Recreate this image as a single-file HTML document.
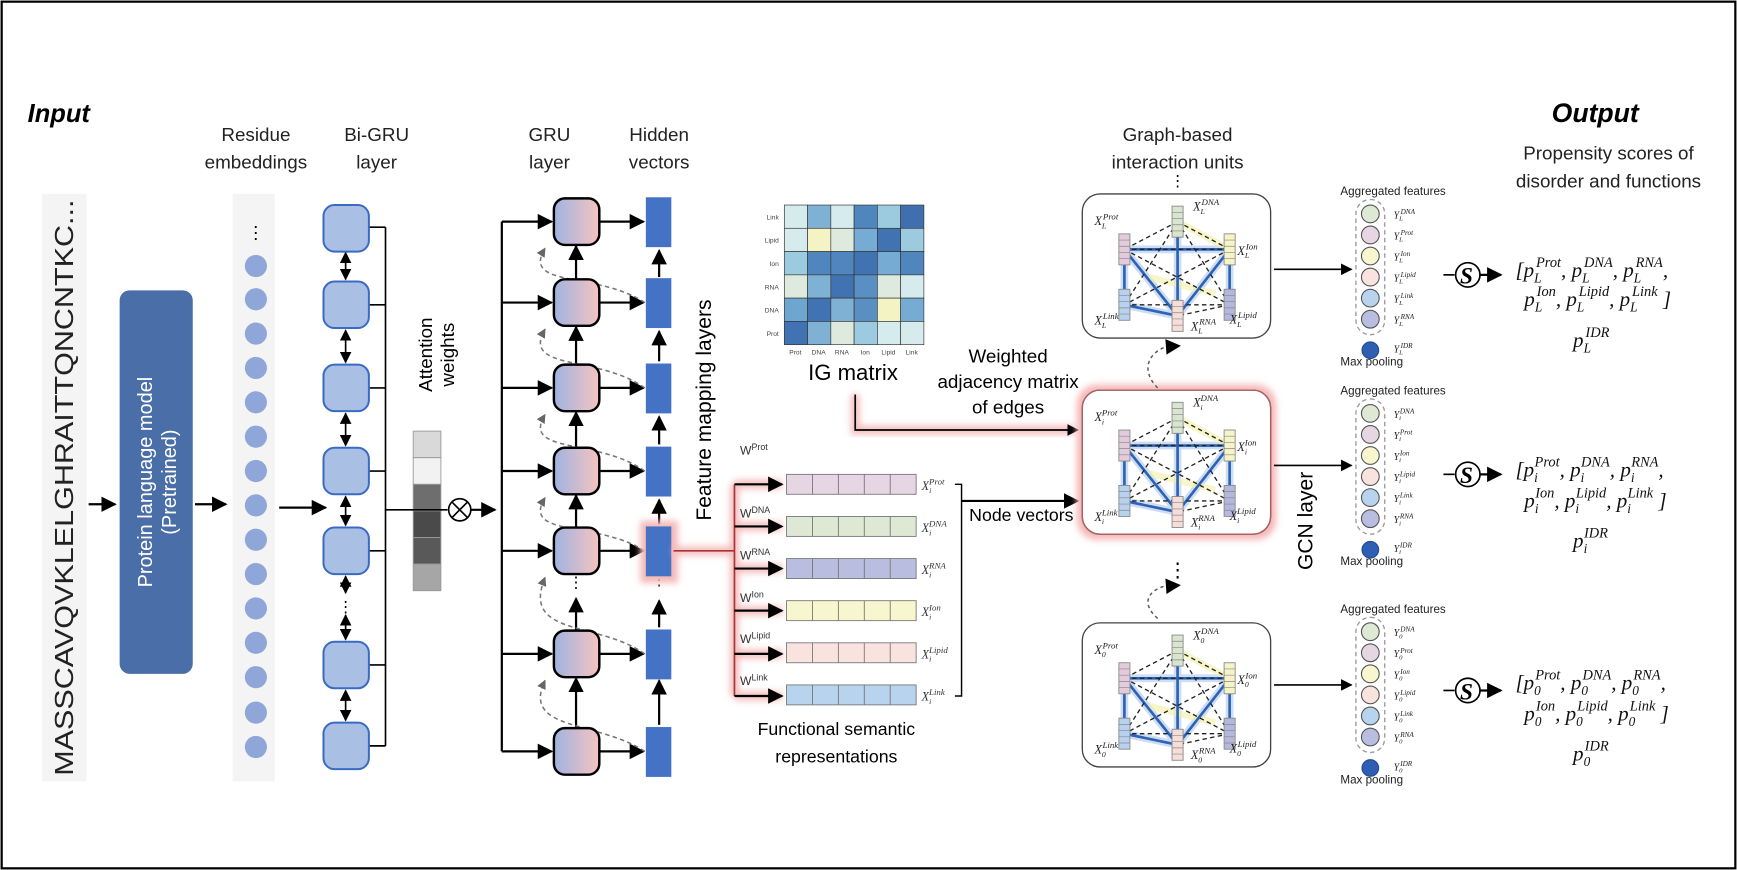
<!DOCTYPE html>
<html><head><meta charset="utf-8"><style>
html,body{margin:0;padding:0;background:#fff}
svg{display:block}
text{font-family:"Liberation Sans",Arial,sans-serif}
.ser,.ser text{font-family:"Liberation Serif","DejaVu Serif",serif;font-style:italic}
</style></head><body>
<svg width="1737" height="870" viewBox="0 0 1568 785" preserveAspectRatio="none" xmlns="http://www.w3.org/2000/svg">
<defs>
<marker id="ah" viewBox="0 0 10 10" refX="9" refY="5" markerWidth="7" markerHeight="7" orient="auto-start-reverse"><path d="M0,0L10,5L0,10z" fill="#000"/></marker>
<marker id="ahg" viewBox="0 0 10 10" refX="9" refY="5" markerWidth="6" markerHeight="6" orient="auto"><path d="M0,0L10,5L0,10z" fill="#666"/></marker>
<linearGradient id="gru" x1="0" x2="1"><stop offset="0" stop-color="#9fb3e0"/><stop offset="1" stop-color="#f6c3c0"/></linearGradient>
<filter id="glow" x="-20%" y="-20%" width="140%" height="140%"><feGaussianBlur stdDeviation="3"/></filter>
<g id="node"><rect x="-5" y="-14" width="10" height="28" stroke="#888" stroke-width="0.8"/><path d="M-5,-8.4H5M-5,-2.8H5M-5,2.8H5M-5,8.4H5" stroke="#888" stroke-width="0.6"/></g>
<g id="unit">
<rect x="0" y="0" width="170" height="130" rx="16" fill="#fff" stroke="#444" stroke-width="1.2"/>
<g stroke="#8db4e6" stroke-width="7" opacity="0.45" fill="none"><path d="M38,50L133,50M38,50L38,100M38,50L86,110M86,25L86,110M133,50L86,110M38,100L86,110M133,50L133,100"/></g>
<g stroke="#f1f0a8" stroke-width="6" opacity="0.6" fill="none"><path d="M86,25L133,50M60,75L120,90"/></g>
<g stroke="#2d62b5" stroke-width="2.4" fill="none"><path d="M38,50L133,50M38,50L38,100M38,50L86,110M86,25L86,110M133,50L86,110M38,100L86,110M133,50L133,100"/></g>
<g stroke="#222" stroke-width="1.2" stroke-dasharray="4,3" fill="none"><path d="M86,25L38,50M86,25L133,50M38,50L133,100M133,50L38,100M38,100L133,100M86,25L38,100M86,25L133,100M133,100L86,110M38,50L133,50"/></g>
<use href="#node" x="86" y="25" fill="#d9e5cf"/>
<use href="#node" x="38" y="50" fill="#e4cbdc"/>
<use href="#node" x="133" y="50" fill="#f6f4c6"/>
<use href="#node" x="38" y="100" fill="#b7d1ee"/>
<use href="#node" x="133" y="100" fill="#b3b8dc"/>
<use href="#node" x="86" y="110" fill="#f6ddd8"/>
</g>
<g id="agg">
<rect x="0" y="0" width="26" height="122" rx="13" fill="none" stroke="#999" stroke-width="1.2" stroke-dasharray="4,3"/>
<g stroke="#555" stroke-width="1"><circle cx="13" cy="13" r="8" fill="#dde8d5"/><circle cx="13" cy="32" r="8" fill="#e6d6e3"/><circle cx="13" cy="51" r="8" fill="#f8f6cf"/><circle cx="13" cy="70" r="8" fill="#f8e3df"/><circle cx="13" cy="89" r="8" fill="#b7d3ee"/><circle cx="13" cy="108" r="8" fill="#b9bee0"/></g>
<circle cx="13" cy="136" r="7.5" fill="#2f5fb3" stroke="#234a8c"/>
</g>
<g id="sarrow"><path d="M0,0H10" stroke="#000" stroke-width="1.5"/><circle cx="22" cy="0" r="11" fill="#fff" stroke="#000" stroke-width="1.5"/><path d="M33,0H52" stroke="#000" stroke-width="2" marker-end="url(#ah)"/></g>
</defs>
<rect x="1.5" y="1.5" width="1565" height="782" fill="#fff" stroke="#000" stroke-width="2"/>

<text x="25" y="110" font-size="23" font-weight="bold" font-style="italic">Input</text>
<g font-size="17" text-anchor="middle" fill="#222">
<text x="231" y="127">Residue</text><text x="231" y="152">embeddings</text>
<text x="340" y="127">Bi-GRU</text><text x="340" y="152">layer</text>
<text x="496" y="127">GRU</text><text x="496" y="152">layer</text>
<text x="595" y="127">Hidden</text><text x="595" y="152">vectors</text>
<text x="1063" y="127">Graph-based</text><text x="1063" y="152">interaction units</text>
<text x="1452" y="144">Propensity scores of</text><text x="1452" y="169">disorder and functions</text>
</g>
<text x="1440" y="110" font-size="24" font-weight="bold" font-style="italic" text-anchor="middle">Output</text>

<rect x="38" y="175" width="40" height="530" fill="#f4f4f4"/>
<text transform="translate(66,700) rotate(-90)" font-size="23" fill="#222" textLength="520" lengthAdjust="spacingAndGlyphs">MASSCAVQVKLELGHRAITTQNCNTKC...</text>
<path d="M80,455H104" stroke="#000" stroke-width="2" marker-end="url(#ah)"/>
<rect x="108" y="262" width="66" height="346" rx="9" fill="#4a6ea8"/>
<text transform="translate(137,435) rotate(-90)" font-size="18" fill="#fff" text-anchor="middle">Protein language model</text>
<text transform="translate(159,435) rotate(-90)" font-size="18" fill="#fff" text-anchor="middle">(Pretrained)</text>
<path d="M176,455H204" stroke="#000" stroke-width="2" marker-end="url(#ah)"/>

<rect x="210" y="175" width="38" height="530" fill="#f4f4f4"/>
<text x="231" y="215" font-size="16" text-anchor="middle">⋮</text>
<g fill="#8ea7d8">
<circle cx="231" cy="240" r="10"/><circle cx="231" cy="270" r="10"/><circle cx="231" cy="301" r="10"/><circle cx="231" cy="332" r="10"/><circle cx="231" cy="363" r="10"/><circle cx="231" cy="394" r="10"/><circle cx="231" cy="425" r="10"/><circle cx="231" cy="456" r="10"/><circle cx="231" cy="487" r="10"/><circle cx="231" cy="518" r="10"/><circle cx="231" cy="549" r="10"/><circle cx="231" cy="580" r="10"/><circle cx="231" cy="611" r="10"/><circle cx="231" cy="643" r="10"/><circle cx="231" cy="674" r="10"/></g>
<path d="M252,458H294" stroke="#000" stroke-width="2" marker-end="url(#ah)"/>

<path d="M348,205V673" stroke="#000" stroke-width="1.5"/>
<g stroke="#000" stroke-width="1.5"><path d="M333,205H348M333,275H348M333,350H348M333,425H348M333,497H348M333,600H348M333,673H348"/></g>
<g stroke="#000" stroke-width="1.5" marker-start="url(#ah)" marker-end="url(#ah)">
<path d="M312,228V252"/><path d="M312,298V327"/><path d="M312,373V402"/><path d="M312,448V474"/><path d="M312,520V535"/><path d="M312,555V577"/><path d="M312,623V650"/></g>
<text x="312" y="552" font-size="14" text-anchor="middle">⋮</text>
<g fill="#a9bfe3" stroke="#3a6bc4" stroke-width="1.8">
<rect x="292" y="185" width="41" height="42" rx="10"/><rect x="292" y="254" width="41" height="42" rx="10"/><rect x="292" y="329" width="41" height="42" rx="10"/><rect x="292" y="404" width="41" height="42" rx="10"/><rect x="292" y="476" width="41" height="42" rx="10"/><rect x="292" y="579" width="41" height="42" rx="10"/><rect x="292" y="652" width="41" height="42" rx="10"/></g>

<text transform="translate(390,320) rotate(-90)" font-size="17" text-anchor="middle">Attention</text>
<text transform="translate(410,320) rotate(-90)" font-size="17" text-anchor="middle">weights</text>
<g stroke="#999" stroke-width="0.8">
<rect x="373" y="389" width="25" height="24" fill="#d9d9d9"/><rect x="373" y="413" width="25" height="24" fill="#f2f2f2"/><rect x="373" y="437" width="25" height="24" fill="#6e6e6e"/><rect x="373" y="461" width="25" height="24" fill="#4a4a4a"/><rect x="373" y="485" width="25" height="24" fill="#595959"/><rect x="373" y="509" width="25" height="24" fill="#a6a6a6"/></g>
<path d="M348,460H404" stroke="#000" stroke-width="1.5"/>
<circle cx="415" cy="460" r="10" fill="#fff" stroke="#000" stroke-width="1.5"/>
<path d="M408,453L422,467M422,453L408,467" stroke="#000" stroke-width="1.5"/>
<path d="M425,460H447" stroke="#000" stroke-width="2" marker-end="url(#ah)"/>

<path d="M453,200V678" stroke="#000" stroke-width="2"/>
<g stroke="#000" stroke-width="2" marker-end="url(#ah)">
<path d="M453,200H498"/><path d="M453,273H498"/><path d="M453,350H498"/><path d="M453,425H498"/><path d="M453,497H498"/><path d="M453,590H498"/><path d="M453,678H498"/>
<path d="M541,200H581"/><path d="M541,273H581"/><path d="M541,350H581"/><path d="M541,425H581"/><path d="M541,497H581"/><path d="M541,590H581"/><path d="M541,678H581"/>
<path d="M520,252V222"/><path d="M520,329V295"/><path d="M520,404V372"/><path d="M520,476V447"/><path d="M520,569V540"/><path d="M520,657V612"/>
<path d="M595,250V226"/><path d="M595,326V299"/><path d="M595,401V376"/><path d="M595,473V451"/><path d="M595,566V542"/><path d="M595,654V614"/>
</g>
<text x="520" y="530" font-size="14" text-anchor="middle">⋮</text>
<text x="595" y="528" font-size="14" text-anchor="middle">⋮</text>
<g fill="none" stroke="#777" stroke-width="1.4" stroke-dasharray="4,3" marker-end="url(#ahg)">
<path d="M582,273C540,245 470,260 492,224"/><path d="M582,350C540,320 470,335 492,297"/><path d="M582,425C540,395 470,410 492,374"/><path d="M582,497C540,470 470,485 492,449"/><path d="M582,590C540,560 470,575 492,521"/><path d="M582,678C540,650 470,660 492,614"/></g>
<g fill="url(#gru)" stroke="#000" stroke-width="2.2">
<rect x="500" y="179" width="41" height="42" rx="10"/><rect x="500" y="252" width="41" height="42" rx="10"/><rect x="500" y="329" width="41" height="42" rx="10"/><rect x="500" y="404" width="41" height="42" rx="10"/><rect x="500" y="476" width="41" height="42" rx="10"/><rect x="500" y="569" width="41" height="42" rx="10"/><rect x="500" y="657" width="41" height="42" rx="10"/></g>
<rect x="578" y="470" width="34" height="56" fill="#f4b8b8" filter="url(#glow)"/>
<g fill="#4472c4">
<rect x="583" y="178" width="23" height="45"/><rect x="583" y="251" width="23" height="45"/><rect x="583" y="328" width="23" height="45"/><rect x="583" y="403" width="23" height="45"/><rect x="583" y="475" width="23" height="45"/><rect x="583" y="568" width="23" height="45"/><rect x="583" y="656" width="23" height="45"/></g>

<text transform="translate(642,370) rotate(-90)" font-size="19" text-anchor="middle">Feature mapping layers</text>

<g stroke="#f4bcbc" stroke-width="8" fill="none" filter="url(#glow)"><path d="M608,497H663M663,437V628M663,437H706M663,475H706M663,513H706M663,551H706M663,590H706M663,628H706"/></g>
<path d="M608,497H663M663,437V628" stroke="#a33" stroke-width="1.5" fill="none"/>
<g stroke="#000" stroke-width="2" marker-end="url(#ah)"><path d="M663,437H706"/><path d="M663,475H706"/><path d="M663,513H706"/><path d="M663,551H706"/><path d="M663,590H706"/><path d="M663,628H706"/></g>
<g font-size="11" fill="#333">
<text x="668" y="410">W<tspan font-size="8" dy="-4">Prot</tspan></text>
<text x="668" y="467">W<tspan font-size="8" dy="-4">DNA</tspan></text>
<text x="668" y="505">W<tspan font-size="8" dy="-4">RNA</tspan></text>
<text x="668" y="543">W<tspan font-size="8" dy="-4">Ion</tspan></text>
<text x="668" y="580">W<tspan font-size="8" dy="-4">Lipid</tspan></text>
<text x="668" y="618">W<tspan font-size="8" dy="-4">Link</tspan></text></g>
<g stroke="#777" stroke-width="0.8">
<rect x="710" y="428" width="117" height="18" fill="#e6d6e3"/>
<rect x="710" y="466" width="117" height="18" fill="#dde8d5"/>
<rect x="710" y="504" width="117" height="18" fill="#b9bee0"/>
<rect x="710" y="542" width="117" height="18" fill="#f8f6cf"/>
<rect x="710" y="580" width="117" height="18" fill="#f8e3df"/>
<rect x="710" y="618" width="117" height="18" fill="#b7d3ee"/>
<path d="M733.4,428V446M756.8,428V446M780.2,428V446M803.6,428V446M733.4,466V484M756.8,466V484M780.2,466V484M803.6,466V484M733.4,504V522M756.8,504V522M780.2,504V522M803.6,504V522M733.4,542V560M756.8,542V560M780.2,542V560M803.6,542V560M733.4,580V598M756.8,580V598M780.2,580V598M803.6,580V598M733.4,618V636M756.8,618V636M780.2,618V636M803.6,618V636"/></g>
<g font-size="11" class="ser" fill="#333">
<text x="832" y="442">X<tspan font-size="7" dy="3">i</tspan><tspan font-size="8" dy="-8" dx="-2">Prot</tspan></text>
<text x="832" y="480">X<tspan font-size="7" dy="3">i</tspan><tspan font-size="8" dy="-8" dx="-2">DNA</tspan></text>
<text x="832" y="518">X<tspan font-size="7" dy="3">i</tspan><tspan font-size="8" dy="-8" dx="-2">RNA</tspan></text>
<text x="832" y="556">X<tspan font-size="7" dy="3">i</tspan><tspan font-size="8" dy="-8" dx="-2">Ion</tspan></text>
<text x="832" y="594">X<tspan font-size="7" dy="3">i</tspan><tspan font-size="8" dy="-8" dx="-2">Lipid</tspan></text>
<text x="832" y="632">X<tspan font-size="7" dy="3">i</tspan><tspan font-size="8" dy="-8" dx="-2">Link</tspan></text></g>
<path d="M862,437H868V628H862" stroke="#000" stroke-width="1.3" fill="none"/>
<path d="M868,452H970" stroke="#f4bcbc" stroke-width="8" filter="url(#glow)"/>
<path d="M868,452H973" stroke="#000" stroke-width="2" marker-end="url(#ah)"/>
<text x="922" y="470" font-size="16" text-anchor="middle">Node vectors</text>
<text x="755" y="663" font-size="16" text-anchor="middle">Functional semantic</text>
<text x="755" y="688" font-size="16" text-anchor="middle">representations</text>

<g stroke="#333" stroke-width="0.6">
<rect x="708" y="185" width="21" height="21" fill="#d6ebee"/><rect x="729" y="185" width="21" height="21" fill="#7fb1d4"/><rect x="750" y="185" width="21" height="21" fill="#d6ebee"/><rect x="771" y="185" width="21" height="21" fill="#4f86bd"/><rect x="792" y="185" width="21" height="21" fill="#9ccbe0"/><rect x="813" y="185" width="21" height="21" fill="#3f6faf"/>
<rect x="708" y="206" width="21" height="21" fill="#d6ebee"/><rect x="729" y="206" width="21" height="21" fill="#f3f3c4"/><rect x="750" y="206" width="21" height="21" fill="#dfeadf"/><rect x="771" y="206" width="21" height="21" fill="#76acd3"/><rect x="792" y="206" width="21" height="21" fill="#4173b2"/><rect x="813" y="206" width="21" height="21" fill="#9ccbe0"/>
<rect x="708" y="227" width="21" height="21" fill="#9ccbe0"/><rect x="729" y="227" width="21" height="21" fill="#4f86bd"/><rect x="750" y="227" width="21" height="21" fill="#4f86bd"/><rect x="771" y="227" width="21" height="21" fill="#4173b2"/><rect x="792" y="227" width="21" height="21" fill="#76acd3"/><rect x="813" y="227" width="21" height="21" fill="#4f86bd"/>
<rect x="708" y="248" width="21" height="21" fill="#dfeadf"/><rect x="729" y="248" width="21" height="21" fill="#7fb1d4"/><rect x="750" y="248" width="21" height="21" fill="#4173b2"/><rect x="771" y="248" width="21" height="21" fill="#5a8fc4"/><rect x="792" y="248" width="21" height="21" fill="#dfeadf"/><rect x="813" y="248" width="21" height="21" fill="#d6ebee"/>
<rect x="708" y="269" width="21" height="21" fill="#6ea6cf"/><rect x="729" y="269" width="21" height="21" fill="#4173b2"/><rect x="750" y="269" width="21" height="21" fill="#7fb1d4"/><rect x="771" y="269" width="21" height="21" fill="#5a8fc4"/><rect x="792" y="269" width="21" height="21" fill="#f3f3c4"/><rect x="813" y="269" width="21" height="21" fill="#76acd3"/>
<rect x="708" y="290" width="21" height="21" fill="#4173b2"/><rect x="729" y="290" width="21" height="21" fill="#7fb1d4"/><rect x="750" y="290" width="21" height="21" fill="#dfeadf"/><rect x="771" y="290" width="21" height="21" fill="#9ccbe0"/><rect x="792" y="290" width="21" height="21" fill="#d6ebee"/><rect x="813" y="290" width="21" height="21" fill="#d6ebee"/></g>
<g font-size="6" fill="#444" text-anchor="end"><text x="703" y="198">Link</text><text x="703" y="219">Lipid</text><text x="703" y="240">Ion</text><text x="703" y="261">RNA</text><text x="703" y="282">DNA</text><text x="703" y="303">Prot</text></g>
<g font-size="6" fill="#444" text-anchor="middle"><text x="718" y="320">Prot</text><text x="739" y="320">DNA</text><text x="760" y="320">RNA</text><text x="781" y="320">Ion</text><text x="802" y="320">Lipid</text><text x="823" y="320">Link</text></g>
<text x="770" y="343" font-size="20" text-anchor="middle">IG matrix</text>
<g font-size="17" text-anchor="middle"><text x="910" y="327">Weighted</text><text x="910" y="350">adjacency matrix</text><text x="910" y="373">of edges</text></g>
<path d="M772,356V388H970" stroke="#f4bcbc" stroke-width="8" fill="none" filter="url(#glow)"/>
<path d="M772,356V388H973" stroke="#000" stroke-width="1.5" fill="none" marker-end="url(#ah)"/>

<text x="1063" y="168" font-size="14" text-anchor="middle">⋮</text>
<rect x="972" y="347" width="180" height="140" rx="18" fill="#f4b8b8" filter="url(#glow)"/>
<use href="#unit" x="977" y="175"/>
<use href="#unit" x="977" y="352"/>
<use href="#unit" x="977" y="562"/>
<rect x="977" y="352" width="170" height="130" rx="16" fill="none" stroke="#b06060" stroke-width="1.2"/>
<text x="1063" y="520" font-size="18" text-anchor="middle">⋮</text>
<g fill="none" stroke="#555" stroke-width="1.3" stroke-dasharray="3,3"><path d="M1045,350C1030,335 1035,318 1055,312"/><path d="M1045,558C1030,545 1035,532 1055,528"/></g>
<path d="M1052,306L1066,312L1053,320z" fill="#000"/><path d="M1052,522L1066,528L1053,536z" fill="#000"/>
<g class="ser" font-size="11" fill="#222">
<text x="988" y="203">X<tspan font-size="7" dy="3">L</tspan><tspan font-size="8" dy="-8" dx="-3">Prot</tspan></text>
<text x="1077" y="190">X<tspan font-size="7" dy="3">L</tspan><tspan font-size="8" dy="-8" dx="-3">DNA</tspan></text>
<text x="1117" y="230">X<tspan font-size="7" dy="3">L</tspan><tspan font-size="8" dy="-8" dx="-3">Ion</tspan></text>
<text x="988" y="293">X<tspan font-size="7" dy="3">L</tspan><tspan font-size="8" dy="-8" dx="-3">Link</tspan></text>
<text x="1075" y="298">X<tspan font-size="7" dy="3">L</tspan><tspan font-size="8" dy="-8" dx="-3">RNA</tspan></text>
<text x="1110" y="292">X<tspan font-size="7" dy="3">L</tspan><tspan font-size="8" dy="-8" dx="-3">Lipid</tspan></text>
<text x="988" y="380">X<tspan font-size="7" dy="3">i</tspan><tspan font-size="8" dy="-8" dx="-2">Prot</tspan></text>
<text x="1077" y="367">X<tspan font-size="7" dy="3">i</tspan><tspan font-size="8" dy="-8" dx="-2">DNA</tspan></text>
<text x="1117" y="407">X<tspan font-size="7" dy="3">i</tspan><tspan font-size="8" dy="-8" dx="-2">Ion</tspan></text>
<text x="988" y="470">X<tspan font-size="7" dy="3">i</tspan><tspan font-size="8" dy="-8" dx="-2">Link</tspan></text>
<text x="1075" y="475">X<tspan font-size="7" dy="3">i</tspan><tspan font-size="8" dy="-8" dx="-2">RNA</tspan></text>
<text x="1110" y="469">X<tspan font-size="7" dy="3">i</tspan><tspan font-size="8" dy="-8" dx="-2">Lipid</tspan></text>
<text x="988" y="590">X<tspan font-size="7" dy="3">0</tspan><tspan font-size="8" dy="-8" dx="-3">Prot</tspan></text>
<text x="1077" y="577">X<tspan font-size="7" dy="3">0</tspan><tspan font-size="8" dy="-8" dx="-3">DNA</tspan></text>
<text x="1117" y="617">X<tspan font-size="7" dy="3">0</tspan><tspan font-size="8" dy="-8" dx="-3">Ion</tspan></text>
<text x="988" y="680">X<tspan font-size="7" dy="3">0</tspan><tspan font-size="8" dy="-8" dx="-3">Link</tspan></text>
<text x="1075" y="685">X<tspan font-size="7" dy="3">0</tspan><tspan font-size="8" dy="-8" dx="-3">RNA</tspan></text>
<text x="1110" y="679">X<tspan font-size="7" dy="3">0</tspan><tspan font-size="8" dy="-8" dx="-3">Lipid</tspan></text>
</g>

<path d="M1150,420H1215" stroke="#f4bcbc" stroke-width="9" filter="url(#glow)"/>
<g stroke="#000" stroke-width="1.5" marker-end="url(#ah)"><path d="M1150,243H1220"/><path d="M1150,420H1220"/><path d="M1150,618H1220"/></g>
<text transform="translate(1185,470) rotate(-90)" font-size="19" text-anchor="middle">GCN layer</text>

<g font-size="10.5" fill="#222"><text x="1210" y="176">Aggregated features</text><text x="1210" y="356">Aggregated features</text><text x="1210" y="553">Aggregated features</text>
<text x="1210" y="330">Max pooling</text><text x="1210" y="510">Max pooling</text><text x="1210" y="707">Max pooling</text></g>
<use href="#agg" x="1224" y="180"/>
<use href="#agg" x="1224" y="360"/>
<use href="#agg" x="1224" y="557"/>
<g class="ser" font-size="9" fill="#222">
<text x="1258" y="197">Y<tspan font-size="6" dy="2">L</tspan><tspan font-size="6.5" dy="-6" dx="-2">DNA</tspan></text>
<text x="1258" y="216">Y<tspan font-size="6" dy="2">L</tspan><tspan font-size="6.5" dy="-6" dx="-2">Prot</tspan></text>
<text x="1258" y="235">Y<tspan font-size="6" dy="2">L</tspan><tspan font-size="6.5" dy="-6" dx="-2">Ion</tspan></text>
<text x="1258" y="254">Y<tspan font-size="6" dy="2">L</tspan><tspan font-size="6.5" dy="-6" dx="-2">Lipid</tspan></text>
<text x="1258" y="273">Y<tspan font-size="6" dy="2">L</tspan><tspan font-size="6.5" dy="-6" dx="-2">Link</tspan></text>
<text x="1258" y="292">Y<tspan font-size="6" dy="2">L</tspan><tspan font-size="6.5" dy="-6" dx="-2">RNA</tspan></text>
<text x="1258" y="318">Y<tspan font-size="6" dy="2">L</tspan><tspan font-size="6.5" dy="-6" dx="-2">IDR</tspan></text>
<text x="1258" y="377">Y<tspan font-size="6" dy="2">i</tspan><tspan font-size="6.5" dy="-6" dx="-1">DNA</tspan></text>
<text x="1258" y="396">Y<tspan font-size="6" dy="2">i</tspan><tspan font-size="6.5" dy="-6" dx="-1">Prot</tspan></text>
<text x="1258" y="415">Y<tspan font-size="6" dy="2">i</tspan><tspan font-size="6.5" dy="-6" dx="-1">Ion</tspan></text>
<text x="1258" y="434">Y<tspan font-size="6" dy="2">i</tspan><tspan font-size="6.5" dy="-6" dx="-1">Lipid</tspan></text>
<text x="1258" y="453">Y<tspan font-size="6" dy="2">i</tspan><tspan font-size="6.5" dy="-6" dx="-1">Link</tspan></text>
<text x="1258" y="472">Y<tspan font-size="6" dy="2">i</tspan><tspan font-size="6.5" dy="-6" dx="-1">RNA</tspan></text>
<text x="1258" y="498">Y<tspan font-size="6" dy="2">i</tspan><tspan font-size="6.5" dy="-6" dx="-1">IDR</tspan></text>
<text x="1258" y="574">Y<tspan font-size="6" dy="2">0</tspan><tspan font-size="6.5" dy="-6" dx="-2">DNA</tspan></text>
<text x="1258" y="593">Y<tspan font-size="6" dy="2">0</tspan><tspan font-size="6.5" dy="-6" dx="-2">Prot</tspan></text>
<text x="1258" y="612">Y<tspan font-size="6" dy="2">0</tspan><tspan font-size="6.5" dy="-6" dx="-2">Ion</tspan></text>
<text x="1258" y="631">Y<tspan font-size="6" dy="2">0</tspan><tspan font-size="6.5" dy="-6" dx="-2">Lipid</tspan></text>
<text x="1258" y="650">Y<tspan font-size="6" dy="2">0</tspan><tspan font-size="6.5" dy="-6" dx="-2">Link</tspan></text>
<text x="1258" y="669">Y<tspan font-size="6" dy="2">0</tspan><tspan font-size="6.5" dy="-6" dx="-2">RNA</tspan></text>
<text x="1258" y="695">Y<tspan font-size="6" dy="2">0</tspan><tspan font-size="6.5" dy="-6" dx="-2">IDR</tspan></text>
</g>

<use href="#sarrow" x="1303" y="248"/>
<use href="#sarrow" x="1303" y="428"/>
<use href="#sarrow" x="1303" y="623"/>
<g class="ser" font-size="21" font-weight="bold" fill="#000"><text x="1318" y="256">S</text><text x="1318" y="436">S</text><text x="1318" y="631">S</text></g>

<g class="ser" font-size="19" fill="#111">
<text x="1368" y="250">[p<tspan font-size="12" dy="5">L</tspan><tspan font-size="13" dy="-14" dx="-5">Prot</tspan><tspan dy="9">, p</tspan><tspan font-size="12" dy="5">L</tspan><tspan font-size="13" dy="-14" dx="-5">DNA</tspan><tspan dy="9">, p</tspan><tspan font-size="12" dy="5">L</tspan><tspan font-size="13" dy="-14" dx="-5">RNA</tspan><tspan dy="9">,</tspan></text>
<text x="1376" y="276">p<tspan font-size="12" dy="5">L</tspan><tspan font-size="13" dy="-14" dx="-5">Ion</tspan><tspan dy="9">, p</tspan><tspan font-size="12" dy="5">L</tspan><tspan font-size="13" dy="-14" dx="-5">Lipid</tspan><tspan dy="9">, p</tspan><tspan font-size="12" dy="5">L</tspan><tspan font-size="13" dy="-14" dx="-5">Link</tspan><tspan dy="9"> ]</tspan></text>
<text x="1420" y="313">p<tspan font-size="12" dy="5">L</tspan><tspan font-size="13" dy="-14" dx="-5">IDR</tspan></text>
<text x="1368" y="430">[p<tspan font-size="12" dy="5">i</tspan><tspan font-size="13" dy="-14" dx="-3">Prot</tspan><tspan dy="9">, p</tspan><tspan font-size="12" dy="5">i</tspan><tspan font-size="13" dy="-14" dx="-3">DNA</tspan><tspan dy="9">, p</tspan><tspan font-size="12" dy="5">i</tspan><tspan font-size="13" dy="-14" dx="-3">RNA</tspan><tspan dy="9">,</tspan></text>
<text x="1376" y="458">p<tspan font-size="12" dy="5">i</tspan><tspan font-size="13" dy="-14" dx="-3">Ion</tspan><tspan dy="9">, p</tspan><tspan font-size="12" dy="5">i</tspan><tspan font-size="13" dy="-14" dx="-3">Lipid</tspan><tspan dy="9">, p</tspan><tspan font-size="12" dy="5">i</tspan><tspan font-size="13" dy="-14" dx="-3">Link</tspan><tspan dy="9"> ]</tspan></text>
<text x="1420" y="494">p<tspan font-size="12" dy="5">i</tspan><tspan font-size="13" dy="-14" dx="-3">IDR</tspan></text>
<text x="1368" y="622">[p<tspan font-size="12" dy="5">0</tspan><tspan font-size="13" dy="-14" dx="-5">Prot</tspan><tspan dy="9">, p</tspan><tspan font-size="12" dy="5">0</tspan><tspan font-size="13" dy="-14" dx="-5">DNA</tspan><tspan dy="9">, p</tspan><tspan font-size="12" dy="5">0</tspan><tspan font-size="13" dy="-14" dx="-5">RNA</tspan><tspan dy="9">,</tspan></text>
<text x="1376" y="650">p<tspan font-size="12" dy="5">0</tspan><tspan font-size="13" dy="-14" dx="-5">Ion</tspan><tspan dy="9">, p</tspan><tspan font-size="12" dy="5">0</tspan><tspan font-size="13" dy="-14" dx="-5">Lipid</tspan><tspan dy="9">, p</tspan><tspan font-size="12" dy="5">0</tspan><tspan font-size="13" dy="-14" dx="-5">Link</tspan><tspan dy="9"> ]</tspan></text>
<text x="1420" y="686">p<tspan font-size="12" dy="5">0</tspan><tspan font-size="13" dy="-14" dx="-5">IDR</tspan></text>
</g>
</svg>
</body></html>
